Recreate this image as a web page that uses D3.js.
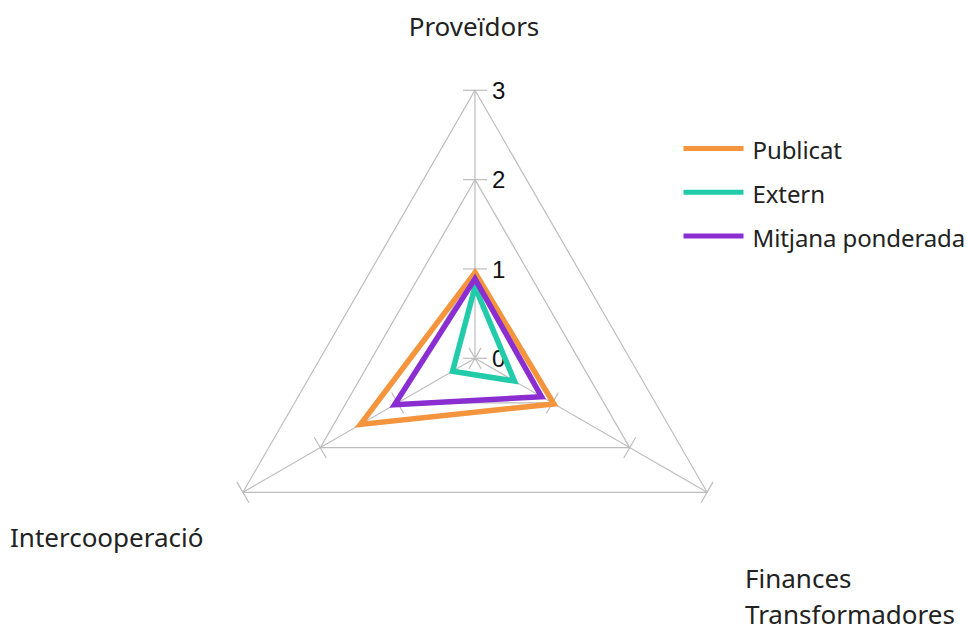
<!DOCTYPE html>
<html>
<head>
<meta charset="utf-8">
<script src="https://cdn.jsdelivr.net/npm/d3@7"></script>
<style>
  html, body { margin: 0; padding: 0; background: #fff; }
  svg { display: block; }
</style>
</head>
<body>
<svg id="chart" width="967" height="632"></svg>
<script>
// ---- data ----
const axesNames = ["Proveïdors", "Finances Transformadores", "Intercooperació"];
const seriesNames = ["Publicat", "Extern", "Mitjana ponderada"];
const publicat = [0.96, 1.02, 1.48];
const extern = [0.80, 0.51, 0.29];
const mitjana = [0.89, 0.86, 1.04];
const tickValues = [0, 1, 2, 3];
const seriesColors = ["#f4943c", "#22cba9", "#8a2ed1"];

const seriesData = [publicat, extern, mitjana];

const svg = d3.select("#chart");
const cx = 475, cy = 358.3;
const r = d3.scaleLinear().domain([0, 3]).range([0, 268]);
const angle = d3.scaleLinear().domain([0, axesNames.length]).range([0, 2 * Math.PI]);

function pt(i, v) {
  const a = angle(i);
  return [cx + r(v) * Math.sin(a), cy - r(v) * Math.cos(a)];
}

const grid = svg.append("g").attr("stroke", "#bdbdbd").attr("fill", "none").attr("stroke-width", 1.2);

// grid triangles
tickValues.filter(t => t > 0).forEach(t => {
  grid.append("path")
    .attr("d", d3.line()(axesNames.map((_, i) => pt(i, t))) + "Z");
});
// axis spokes
axesNames.forEach((_, i) => {
  const p = pt(i, 3);
  grid.append("line").attr("x1", cx).attr("y1", cy).attr("x2", p[0]).attr("y2", p[1]);
});
// tick marks, perpendicular to each spoke
axesNames.forEach((_, i) => {
  const a = angle(i);
  const px = Math.cos(a), py = Math.sin(a);
  tickValues.forEach(t => {
    const p = pt(i, t);
    const L = 12;
    grid.append("line")
      .attr("x1", p[0] - px * L).attr("y1", p[1] - py * L)
      .attr("x2", p[0] + px * L).attr("y2", p[1] + py * L);
  });
});

// tick labels
svg.append("g").selectAll("text").data(tickValues).join("text")
  .attr("x", cx + 17)
  .attr("y", d => cy - r(d))
  .attr("dy", "0.36em")
  .attr("font-family", "Liberation Sans, Arial, sans-serif")
  .attr("font-size", 24)
  .attr("fill", "#111")
  .text(d => d);

// series
const line = d3.line();
svg.append("g").selectAll("path").data(seriesData).join("path")
  .attr("d", d => line(d.map((v, i) => pt(i, v))) + "Z")
  .attr("fill", "none")
  .attr("stroke", (d, i) => seriesColors[i])
  .attr("stroke-width", 5.5)
  .attr("stroke-linejoin", "miter");

// category labels
const labFont = "Noto Sans, Open Sans, sans-serif";
const lab = svg.append("g").attr("font-family", labFont).attr("font-size", 26)
  .attr("fill", "#222");
lab.append("text").attr("x", cx - 1).attr("y", 36).attr("text-anchor", "middle").text(axesNames[0]);
lab.append("text").attr("x", 10).attr("y", 547).text(axesNames[2]);
const fin = lab.append("text").attr("x", 745).attr("y", 588);
axesNames[1].split(" ").forEach((w, k) => {
  fin.append("tspan").attr("x", 745).attr("dy", k === 0 ? 0 : 36).text(w);
});

// legend
const leg = svg.append("g").selectAll("g").data(seriesNames).join("g")
  .attr("transform", (d, i) => `translate(683.5, ${148.5 + i * 43.8})`);
leg.append("line").attr("x1", 0).attr("x2", 60).attr("y1", 0).attr("y2", 0)
  .attr("stroke", (d, i) => seriesColors[i]).attr("stroke-width", 5);
leg.append("text").attr("x", 69).attr("y", 10.5)
  .attr("font-family", labFont).attr("font-size", 24).attr("letter-spacing", -0.1)
  .attr("fill", "#222")
  .text(d => d);
</script>
</body>
</html>
